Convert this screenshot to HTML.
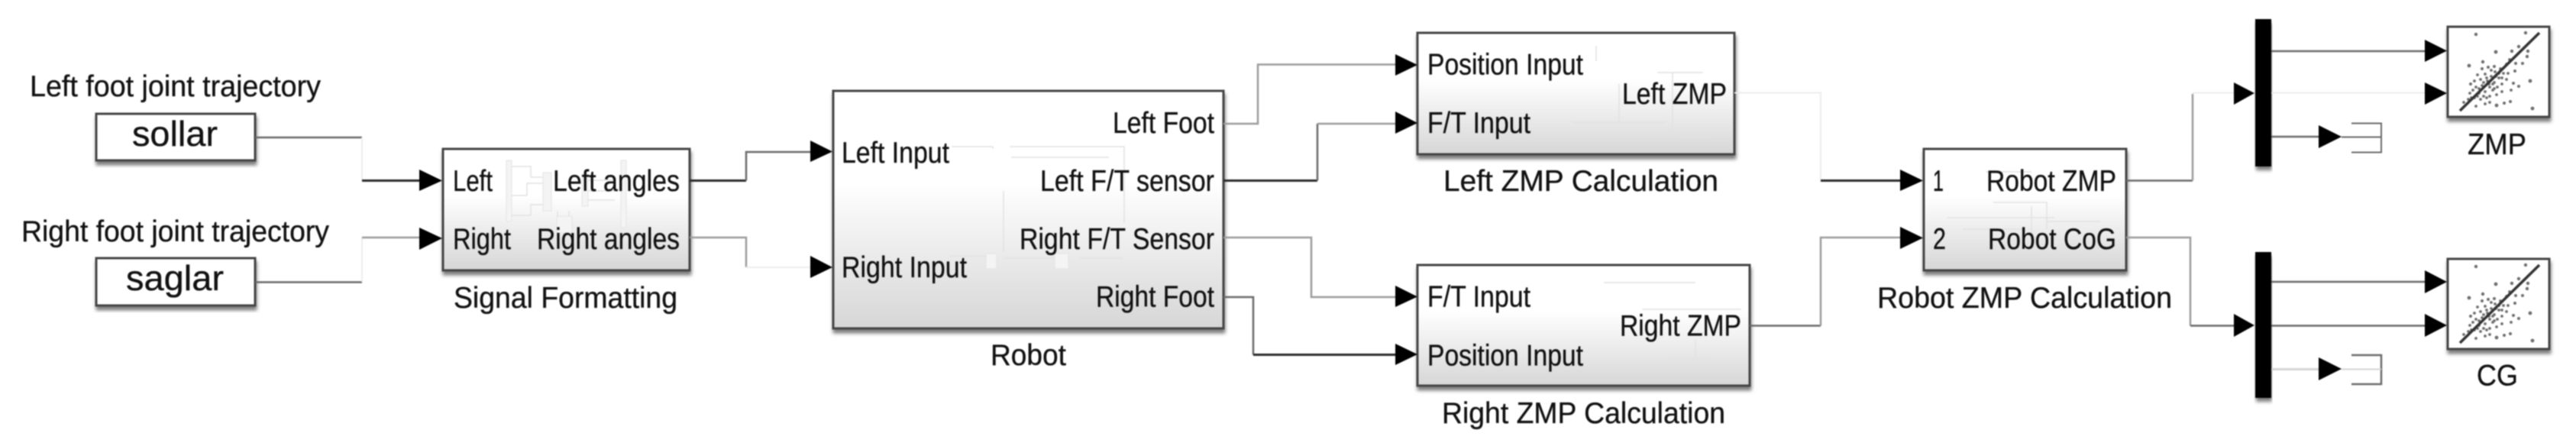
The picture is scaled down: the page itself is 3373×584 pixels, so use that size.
<!DOCTYPE html>
<html lang="en">
<head>
<meta charset="utf-8">
<title>Robot ZMP Simulink Diagram</title>
<style>
html,body{margin:0;padding:0;background:#fff;width:3373px;height:584px;overflow:hidden}
svg{display:block;filter:blur(0.8px)}
text{font-family:"Liberation Sans",Arial,sans-serif;font-size:39px;fill:#111;stroke:#111;stroke-width:.35px}
.d{stroke:#2c2c2c;stroke-width:3;fill:none}
.m{stroke:#6a6a6a;stroke-width:2.5;fill:none}
.g{stroke:#9c9c9c;stroke-width:2.5;fill:none}
.f{stroke:#ececec;stroke-width:2;fill:none}
.i{stroke:#e2e2e2;stroke-width:1.5;fill:none}
.w{fill:#f4f4f4;stroke:#e4e4e4;stroke-width:1}
.b{stroke:#444;stroke-width:3}
</style>
</head>
<body>
<svg width="3373" height="584" viewBox="0 0 3373 584" xmlns="http://www.w3.org/2000/svg">
<defs>
<linearGradient id="bg" x1="0" y1="0" x2="0" y2="1">
<stop offset="0" stop-color="#ffffff"/>
<stop offset="0.38" stop-color="#ffffff"/>
<stop offset="1" stop-color="#d6d6d6"/>
</linearGradient>
<filter id="sh" x="-5%" y="-5%" width="110%" height="120%">
<feDropShadow dx="1" dy="5" stdDeviation="2.5" flood-color="#666" flood-opacity="0.85"/>
</filter>
<g id="scope">
<g fill="#6e6e6e">
<circle cx="38" cy="11" r="2.2"/><circle cx="103" cy="9" r="2.2"/><circle cx="64" cy="34" r="2.4"/><circle cx="85" cy="33" r="2.2"/><circle cx="94" cy="27" r="2.2"/><circle cx="106" cy="33" r="2.2"/><circle cx="105" cy="40" r="2.2"/><circle cx="29" cy="52" r="2.4"/><circle cx="47" cy="47" r="2.2"/><circle cx="99" cy="49" r="2"/><circle cx="90" cy="49" r="2"/><circle cx="46" cy="56" r="2"/><circle cx="54" cy="54" r="2"/><circle cx="62" cy="53" r="2"/><circle cx="89" cy="59" r="2"/><circle cx="109" cy="72" r="2.4"/><circle cx="94" cy="79" r="2"/><circle cx="87" cy="75" r="2"/><circle cx="31" cy="76" r="2"/><circle cx="112" cy="108" r="2.4"/><circle cx="83" cy="99" r="2"/><circle cx="75" cy="101" r="2"/><circle cx="65" cy="104" r="2.4"/>
<circle cx="40" cy="64" r="1.9"/><circle cx="44" cy="70" r="1.9"/><circle cx="50" cy="63" r="1.9"/><circle cx="36" cy="72" r="1.9"/><circle cx="38" cy="80" r="1.9"/><circle cx="46" cy="78" r="1.9"/><circle cx="53" cy="72" r="1.9"/><circle cx="58" cy="66" r="1.9"/><circle cx="63" cy="60" r="1.9"/><circle cx="70" cy="56" r="1.9"/><circle cx="74" cy="62" r="1.9"/><circle cx="68" cy="68" r="1.9"/><circle cx="62" cy="74" r="1.9"/><circle cx="56" cy="80" r="1.9"/><circle cx="50" cy="86" r="1.9"/><circle cx="42" cy="88" r="1.9"/><circle cx="34" cy="84" r="1.9"/><circle cx="30" cy="88" r="1.9"/><circle cx="28" cy="96" r="1.9"/><circle cx="36" cy="94" r="1.9"/><circle cx="44" cy="96" r="1.9"/><circle cx="50" cy="102" r="1.9"/><circle cx="38" cy="105" r="1.9"/><circle cx="22" cy="100" r="1.9"/><circle cx="56" cy="92" r="1.9"/><circle cx="60" cy="84" r="1.9"/><circle cx="66" cy="80" r="1.9"/><circle cx="72" cy="76" r="1.9"/><circle cx="78" cy="70" r="1.9"/><circle cx="80" cy="62" r="1.9"/><circle cx="72" cy="86" r="1.9"/><circle cx="65" cy="90" r="1.9"/><circle cx="78" cy="50" r="1.9"/><circle cx="82" cy="44" r="1.9"/><circle cx="58" cy="58" r="1.9"/><circle cx="48" cy="92" r="1.9"/><circle cx="56" cy="100" r="1.9"/><circle cx="84" cy="84" r="1.9"/><circle cx="52" cy="68" r="1.9"/><circle cx="42" cy="82" r="1.9"/><circle cx="60" cy="76" r="1.9"/><circle cx="68" cy="62" r="1.9"/>
<circle cx="48" cy="74" r="1.9"/><circle cx="55" cy="76" r="1.9"/><circle cx="64" cy="66" r="1.9"/><circle cx="72" cy="68" r="1.9"/><circle cx="40" cy="92" r="1.9"/><circle cx="32" cy="94" r="1.9"/><circle cx="52" cy="94" r="1.9"/><circle cx="62" cy="82" r="1.9"/>
</g>
<line x1="17" y1="111" x2="121" y2="9" stroke="#333" stroke-width="3.5"/>
</g>
</defs>
<rect width="3373" height="584" fill="#fff"/>

<!-- blocks -->
<rect class="b" x="126" y="149" width="208" height="61" fill="#fff" filter="url(#sh)"/>
<rect class="b" x="126" y="338" width="208" height="62" fill="#fff" filter="url(#sh)"/>
<rect class="b" x="580" y="195" width="323" height="159" fill="url(#bg)" filter="url(#sh)"/>
<rect class="b" x="1091" y="119" width="511" height="311" fill="url(#bg)" filter="url(#sh)"/>
<rect class="b" x="1856" y="43" width="415" height="159" fill="url(#bg)" filter="url(#sh)"/>
<rect class="b" x="1856" y="347" width="435" height="158" fill="url(#bg)" filter="url(#sh)"/>
<rect class="b" x="2519" y="195" width="265" height="159" fill="url(#bg)" filter="url(#sh)"/>
<rect class="b" x="3205" y="35" width="133" height="118" fill="#fff" filter="url(#sh)"/>
<rect class="b" x="3205" y="339" width="133" height="118" fill="#fff" filter="url(#sh)"/>
<rect x="2953" y="25" width="21" height="193" fill="#000" filter="url(#sh)"/>
<rect x="2953" y="330" width="21" height="191" fill="#000" filter="url(#sh)"/>

<!-- faint inner diagrams -->
<g>
<rect class="w" x="663" y="210" width="7" height="80"/><rect class="w" x="711" y="226" width="11" height="50"/><rect class="w" x="762" y="228" width="8" height="42"/><rect class="w" x="813" y="210" width="7" height="88"/><rect class="w" x="729" y="283" width="20" height="22"/>
<path class="i" d="M670 218H695V232H711M670 256H690V240H711M670 282H695V268H711M770 236H805M770 250H805M770 262H805M730 276V283M745 276V283"/>
<path class="i" d="M1246 192H1300M1322 192H1472V292M1300 192V195M1324 206H1452M1314 250V330M1244 335H1290M1315 338H1380M1412 338H1470"/>
<rect class="w" x="1291" y="332" width="14" height="20"/><rect class="w" x="1381" y="332" width="18" height="20"/>
<path class="i" d="M2090 60V80M2170 95H2230M2060 160H2180M2120 110V160M2200 180H2240M2190 95V170"/>
<path class="i" d="M2100 370H2180M2160 370H2220M2150 405H2280M2220 445V470M2190 470H2240"/>
<path class="i" d="M2600 225H2660M2610 265H2680V300M2550 285H2690M2570 300H2650M2660 270V310M2680 290H2750"/>
</g>

<!-- connectors -->
<path class="m" d="M334 180H474"/><path class="f" d="M474 180V236"/><path class="d" d="M474 236.5H552"/>
<path class="m" d="M334 369.5H474"/><path class="f" d="M474 369V311"/><path class="g" d="M474 311H552"/>
<path class="d" d="M903 236.5H977"/><path class="m" d="M977 236.5V199H1064"/>
<path class="g" d="M903 311H977V350"/><path class="f" d="M977 350H1064"/>
<path class="g" d="M1602 162H1647V84.5H1830"/>
<path class="d" d="M1602 236.5H1725"/><path class="m" d="M1725 236.5V162"/><path class="g" d="M1725 162H1830"/>
<path class="g" d="M1602 311H1717V389H1830"/>
<path class="m" d="M1602 389H1641V464.5"/><path class="d" d="M1641 464.5H1830"/>
<path class="f" d="M2271 121.5H2384V236"/><path class="d" d="M2384 236.5H2491"/>
<path class="m" d="M2291 426.5H2384"/><path class="g" d="M2384 426.5V311H2491"/>
<path class="m" d="M2784 236.5H2871"/><path class="g" d="M2871 236.5V123"/><path class="f" d="M2871 121.5H2927"/>
<path class="g" d="M2784 311H2868V426.5"/><path class="m" d="M2868 426.5H2927"/>
<path class="m" d="M2974 67H3178"/><path class="f" d="M2974 121.5H3178"/><path class="m" d="M2974 179H3040"/>
<path class="m" d="M2974 369H3178"/><path class="m" d="M2974 426.5H3178"/><path class="f" style="stroke:#d4d4d4;stroke-width:3" d="M2974 483.5H3040"/>

<!-- terminators -->
<path class="m" d="M3079 161.5H3118V199.5H3079M3066 179.5H3118" style="stroke-width:2"/>
<path class="m" d="M3079 465H3118V503H3079"/><path class="f" style="stroke:#d4d4d4" d="M3066 483.5H3118"/>

<!-- arrowheads -->
<g fill="#000">
<polygon points="549,222 579,236.5 549,250"/>
<polygon points="549,298 579,312 549,327"/>
<polygon points="1061,184 1090,198.5 1061,212"/>
<polygon points="1061,335 1090,350 1061,364"/>
<polygon points="1827,71 1856,85 1827,99"/>
<polygon points="1827,146 1856,161 1827,175"/>
<polygon points="1827,374 1856,388.5 1827,402"/>
<polygon points="1827,450 1856,464 1827,478"/>
<polygon points="2488,222 2518,236.5 2488,250"/>
<polygon points="2488,297 2518,311.5 2488,326"/>
<polygon points="2925,108 2952,122 2925,137"/>
<polygon points="2925,411 2952,426 2925,441"/>
<polygon points="3175,52 3204,66.5 3175,81"/>
<polygon points="3175,108 3204,122 3175,137"/>
<polygon points="3175,354 3204,369 3175,384"/>
<polygon points="3175,411 3204,426 3175,441"/>
<polygon points="3036,164 3066,179 3036,194"/>
<polygon points="3036,468 3066,483 3036,498"/>
</g>

<use href="#scope" x="3204" y="34"/>
<use href="#scope" x="3204" y="338"/>

<!-- text -->
<g>
<text x="39" y="126" textLength="381" lengthAdjust="spacingAndGlyphs">Left foot joint trajectory</text>
<text x="28" y="316" textLength="403" lengthAdjust="spacingAndGlyphs">Right foot joint trajectory</text>
<text x="173" y="191" textLength="112" lengthAdjust="spacingAndGlyphs" style="font-size:46px">sollar</text>
<text x="165" y="380" textLength="128" lengthAdjust="spacingAndGlyphs" style="font-size:46px">saglar</text>
<text x="593" y="250" textLength="52" lengthAdjust="spacingAndGlyphs">Left</text>
<text x="724" y="250" textLength="166" lengthAdjust="spacingAndGlyphs">Left angles</text>
<text x="593" y="326" textLength="76" lengthAdjust="spacingAndGlyphs">Right</text>
<text x="703" y="326" textLength="187" lengthAdjust="spacingAndGlyphs">Right angles</text>
<text x="594" y="403" textLength="293" lengthAdjust="spacingAndGlyphs">Signal Formatting</text>
<text x="1102" y="213" textLength="141" lengthAdjust="spacingAndGlyphs">Left Input</text>
<text x="1102" y="363" textLength="164" lengthAdjust="spacingAndGlyphs">Right Input</text>
<text x="1457" y="174" textLength="133" lengthAdjust="spacingAndGlyphs">Left Foot</text>
<text x="1362" y="250" textLength="228" lengthAdjust="spacingAndGlyphs">Left F/T sensor</text>
<text x="1335" y="326" textLength="255" lengthAdjust="spacingAndGlyphs">Right F/T Sensor</text>
<text x="1435" y="401.5" textLength="155" lengthAdjust="spacingAndGlyphs">Right Foot</text>
<text x="1297" y="478" textLength="99" lengthAdjust="spacingAndGlyphs">Robot</text>
<text x="1869" y="97.5" textLength="204" lengthAdjust="spacingAndGlyphs">Position Input</text>
<text x="1869" y="174" textLength="135" lengthAdjust="spacingAndGlyphs">F/T Input</text>
<text x="2124" y="136" textLength="137" lengthAdjust="spacingAndGlyphs">Left ZMP</text>
<text x="1890" y="250" textLength="360" lengthAdjust="spacingAndGlyphs">Left ZMP Calculation</text>
<text x="1869" y="401.5" textLength="135" lengthAdjust="spacingAndGlyphs">F/T Input</text>
<text x="1869" y="478.5" textLength="204" lengthAdjust="spacingAndGlyphs">Position Input</text>
<text x="2121" y="439.5" textLength="159" lengthAdjust="spacingAndGlyphs">Right ZMP</text>
<text x="1888" y="554" textLength="371" lengthAdjust="spacingAndGlyphs">Right ZMP Calculation</text>
<text x="2531" y="250" textLength="14" lengthAdjust="spacingAndGlyphs">1</text>
<text x="2531" y="326" textLength="17" lengthAdjust="spacingAndGlyphs">2</text>
<text x="2601" y="250" textLength="170" lengthAdjust="spacingAndGlyphs">Robot ZMP</text>
<text x="2603" y="326" textLength="168" lengthAdjust="spacingAndGlyphs">Robot CoG</text>
<text x="2458" y="403" textLength="386" lengthAdjust="spacingAndGlyphs">Robot ZMP Calculation</text>
<text x="3231" y="202" textLength="77" lengthAdjust="spacingAndGlyphs">ZMP</text>
<text x="3243" y="504.5" textLength="54" lengthAdjust="spacingAndGlyphs">CG</text>
</g>
</svg>
</body>
</html>
